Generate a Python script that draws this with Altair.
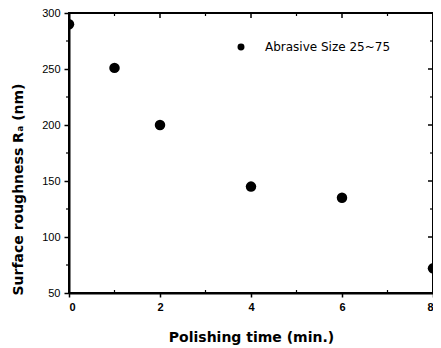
import altair as alt
import pandas as pd

time_min = [0, 1, 2, 4, 6, 8]
roughness = [290, 251, 200, 145, 135, 72]
series = ["Abrasive Size 25~75"] * 6

x_major = [0, 2, 4, 6, 8]
x_minor = [1, 3, 5, 7]
y_major = [50, 100, 150, 200, 250, 300]
y_minor = [75, 125, 175, 225, 275]

df = pd.DataFrame({"t": time_min, "r": roughness, "s": series})
FONT = "Liberation Sans"
TFONT = "DejaVu Sans"
W, H = 364, 280

xs = alt.Scale(domain=[0, 8], nice=False, zero=False)
ys = alt.Scale(domain=[50, 300], nice=False, zero=False)

xaxis = alt.Axis(
    values=x_major, title="Polishing time (min.)", grid=False, format="d",
    labelFont=FONT, labelFontSize=11, labelFontWeight="bold", labelColor="black", labelPadding=4,
    titleFont=TFONT, titleFontSize=14, titleFontWeight="bold", titleColor="black",
    titlePadding=18, domainColor="black", domainWidth=2, tickColor="black",
    tickWidth=1.5, tickSize=4)
yaxis = alt.Axis(
    values=y_major, title="Surface roughness  Rₐ  (nm)", grid=False,
    labelFont=FONT, labelFontSize=11, labelColor="black", labelPadding=4,
    titleFont=TFONT, titleFontSize=14, titleFontWeight="bold", titleColor="black",
    titleY=176, titleX=-44, domainColor="black", domainWidth=2, tickColor="black",
    tickWidth=1.5, tickSize=5)

points = alt.Chart(df).mark_circle(size=110, opacity=1, color="black", clip=True).encode(
    x=alt.X("t:Q", scale=xs, axis=xaxis),
    y=alt.Y("r:Q", scale=ys, axis=yaxis),
    color=alt.Color("s:N", scale=alt.Scale(range=["black"]), legend=alt.Legend(
        title=None, orient="none", legendX=166, legendY=28, symbolType="circle",
        symbolSize=30, symbolFillColor="black", symbolStrokeColor="black",
        labelFont=TFONT, labelFontSize=12, labelColor="black", labelOffset=18)),
)

xminor_df = pd.DataFrame({"t": x_minor})
yminor_df = pd.DataFrame({"r": y_minor})
xmaj_df = pd.DataFrame({"t": x_major[1:-1]})
ymaj_df = pd.DataFrame({"r": y_major[1:-1]})

def xr(d, y1, y2, w):
    return alt.Chart(d).mark_rule(color="black", strokeWidth=w).encode(
        x=alt.X("t:Q", scale=xs, axis=xaxis), y=alt.value(y1), y2=alt.value(y2))

def yr(d, x1, x2, w):
    return alt.Chart(d).mark_rule(color="black", strokeWidth=w).encode(
        y=alt.Y("r:Q", scale=ys, axis=yaxis), x=alt.value(x1), x2=alt.value(x2))

chart = alt.layer(
    points,
    xr(xmaj_df, 0, 5, 1.5), xr(xminor_df, 0, 3, 1.2), xr(xminor_df, H, H - 3, 1.2),
    yr(ymaj_df, W, W - 5, 1.5), yr(yminor_df, W, W - 3, 1.2), yr(yminor_df, 0, -3, 1.2),
).properties(
    width=W, height=H,
    autosize=alt.AutoSizeParams(type="none"),
    padding={"left": 61, "top": 5, "right": 0, "bottom": 55},
    background="white",
).configure_view(stroke="black", strokeWidth=2)

chart.save("out.html", embed_options={"renderer": "svg", "actions": False})
